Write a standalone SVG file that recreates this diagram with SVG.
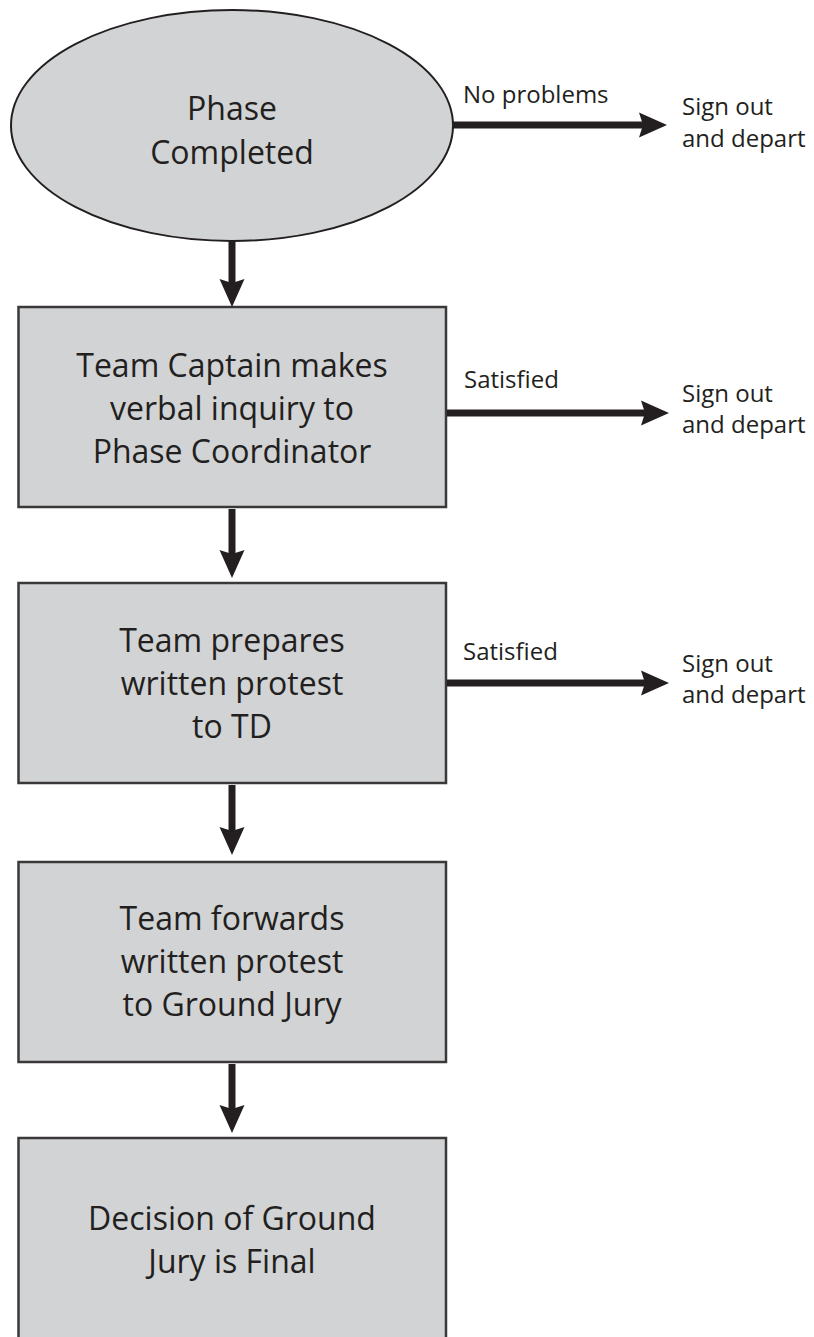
<svg xmlns="http://www.w3.org/2000/svg" width="814" height="1337" viewBox="0 0 814 1337">
<style>
.node{fill:#d1d3d4;stroke:#231f20;stroke-width:2}
.box{fill:#d1d3d4;stroke:#3a3839;stroke-width:2.5}
.t{font-family:"Open Sans","Liberation Sans",sans-serif;font-size:32px;fill:#231f20;text-anchor:middle}
.s{font-family:"Open Sans","Liberation Sans",sans-serif;font-size:24px;fill:#231f20}
.c{stroke:#231f20;stroke-width:7;fill:none;marker-end:url(#ah)}
</style>
<defs>
<marker id="ah" markerUnits="userSpaceOnUse" markerWidth="30" markerHeight="26" refX="6" refY="12.5" orient="auto" overflow="visible">
<path d="M0,0 L28,12.5 L0,25 L4,12.5 z" fill="#231f20"/>
</marker>
</defs>
<g id="n-phase">
<ellipse class="node" cx="232" cy="125.5" rx="221" ry="115.5"/>
<text class="t" x="232" y="120">Phase</text>
<text class="t" x="232" y="164">Completed</text>
</g>
<g id="n-captain">
<rect class="box" x="18.5" y="307" width="427.5" height="200"/>
<text class="t" x="232" y="377">Team Captain makes</text>
<text class="t" x="232" y="420">verbal inquiry to</text>
<text class="t" x="232" y="463">Phase Coordinator</text>
</g>
<g id="n-prepares">
<rect class="box" x="18.5" y="583" width="427.5" height="200"/>
<text class="t" x="232" y="652">Team prepares</text>
<text class="t" x="232" y="695">written protest</text>
<text class="t" x="232" y="738">to TD</text>
</g>
<g id="n-forwards">
<rect class="box" x="18.5" y="862" width="427.5" height="200"/>
<text class="t" x="232" y="930">Team forwards</text>
<text class="t" x="232" y="973">written protest</text>
<text class="t" x="232" y="1016">to Ground Jury</text>
</g>
<g id="n-decision">
<rect class="box" x="18.5" y="1138" width="427.5" height="206"/>
<text class="t" x="232" y="1230">Decision of Ground</text>
<text class="t" x="232" y="1273">Jury is Final</text>
</g>
<g id="n-out1">
<text class="s" x="682" y="115">Sign out</text>
<text class="s" x="682" y="147">and depart</text>
</g>
<g id="n-out2">
<text class="s" x="682" y="402">Sign out</text>
<text class="s" x="682" y="433">and depart</text>
</g>
<g id="n-out3">
<text class="s" x="682" y="672">Sign out</text>
<text class="s" x="682" y="703">and depart</text>
</g>
<g id="connectors">
<line class="c" x1="232" y1="241" x2="232" y2="285"/>
<line class="c" x1="232" y1="509" x2="232" y2="556"/>
<line class="c" x1="232" y1="785" x2="232" y2="833"/>
<line class="c" x1="232" y1="1064" x2="232" y2="1111"/>
<line class="c" x1="453" y1="125" x2="645" y2="125"/>
<line class="c" x1="447" y1="413" x2="647" y2="413"/>
<line class="c" x1="447" y1="683" x2="647" y2="683"/>
<text class="s" x="463" y="103">No problems</text>
<text class="s" x="464" y="388">Satisfied</text>
<text class="s" x="463" y="660">Satisfied</text>
</g>
</svg>
